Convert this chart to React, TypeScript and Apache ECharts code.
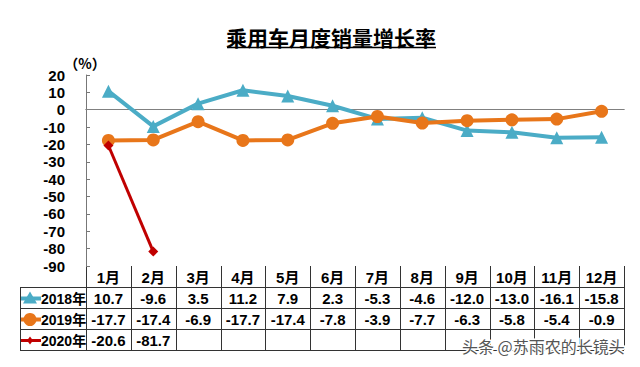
import React, { useEffect, useRef } from "react";
import * as echarts from "echarts";

const months = ["1月", "2月", "3月", "4月", "5月", "6月", "7月", "8月", "9月", "10月", "11月", "12月"];
const seriesNames = ["2018年", "2019年", "2020年"];
const growth2018 = [10.7, -9.6, 3.5, 11.2, 7.9, 2.3, -5.3, -4.6, -12.0, -13.0, -16.1, -15.8];
const growth2019 = [-17.7, -17.4, -6.9, -17.7, -17.4, -7.8, -3.9, -7.7, -6.3, -5.8, -5.4, -0.9];
const growth2020 = [-20.6, -81.7];
const yMin = -90;
const yMax = 20;
const yStep = 10;
const titleText = "乘用车月度销量增长率";
const unitText = "（%）";
const watermark = "头条 @苏雨农的长镜头";

const colors = ["#4BACC6", "#E8761A", "#C00000"];
const allData = [growth2018, growth2019, growth2020];

const FONT = "'Liberation Sans', Arial, 'Noto Sans CJK SC', sans-serif";
const CJK = "'Noto Sans CJK SC', sans-serif";

export default function App() {
  const ref = useRef<HTMLDivElement>(null);
  useEffect(() => {
    document.body.style.margin = "0";
    const chart = echarts.init(ref.current!, null, { renderer: "svg" });
    const option: any = {
      animation: false,
      backgroundColor: "#fff",
      grid: { left: 86, right: 16, top: 75, bottom: 101 },
      xAxis: {
        type: "category",
        data: months,
        boundaryGap: true,
        axisLine: { show: true, lineStyle: { color: "#333", width: 1 } },
        axisTick: { show: false },
        axisLabel: {
          margin: 4,
          fontSize: 15,
          fontWeight: "bold",
          color: "#000",
          fontFamily: FONT,
          interval: 0,
        },
        splitLine: { show: false },
      },
      yAxis: {
        type: "value",
        min: yMin,
        max: yMax,
        interval: yStep,
        axisLine: { show: true, lineStyle: { color: "#777", width: 1 } },
        axisTick: { show: true, inside: true, length: 4, lineStyle: { color: "#777" } },
        axisLabel: { fontSize: 15, fontWeight: "bold", color: "#000", fontFamily: FONT, margin: 21 },
        splitLine: { show: false },
      },
      series: [
        {
          name: seriesNames[0],
          type: "line",
          data: growth2018,
          symbol: "triangle",
          symbolSize: 13,
          lineStyle: { color: colors[0], width: 4 },
          itemStyle: { color: colors[0] },
          z: 3,
          markLine: {
            silent: true,
            symbol: "none",
            label: { show: false },
            lineStyle: { color: "#808080", width: 1, type: "solid" },
            data: [{ yAxis: 0 }],
            z: 1,
          },
        },
        {
          name: seriesNames[1],
          type: "line",
          data: growth2019,
          symbol: "circle",
          symbolSize: 13,
          lineStyle: { color: colors[1], width: 4 },
          itemStyle: { color: colors[1] },
          z: 4,
        },
        {
          name: seriesNames[2],
          type: "line",
          data: growth2020,
          symbol: "diamond",
          symbolSize: 10,
          lineStyle: { color: colors[2], width: 3 },
          itemStyle: { color: colors[2] },
          z: 5,
        },
      ],
    };
    chart.setOption(option);

    const c0 = chart.convertToPixel({ xAxisIndex: 0 }, 0) as number;
    const c11 = chart.convertToPixel({ xAxisIndex: 0 }, months.length - 1) as number;
    const colW = (c11 - c0) / (months.length - 1);
    const left = c0 - colW / 2;
    const right = left + colW * months.length;
    const tableTop = chart.convertToPixel({ yAxisIndex: 0 }, yMin) as number;
    const rowH = 21;
    const labelLeft = 20;
    const g: any[] = [];
    const ls = { stroke: "#333", lineWidth: 1 };
    for (let i = 0; i <= months.length; i++) {
      const x = Math.round(left + i * colW) + 0.5;
      g.push({ type: "line", shape: { x1: x, y1: tableTop, x2: x, y2: tableTop + rowH * 4 }, style: ls, silent: true });
    }
    g.push({ type: "line", shape: { x1: labelLeft + 0.5, y1: tableTop + rowH, x2: labelLeft + 0.5, y2: tableTop + rowH * 4 }, style: ls });
    for (let r = 1; r <= 4; r++) {
      const y = Math.round(tableTop + r * rowH) + 0.5;
      g.push({ type: "line", shape: { x1: labelLeft, y1: y, x2: right, y2: y }, style: ls });
    }
    allData.forEach((arr, s) => {
      const yc = tableTop + rowH * (s + 1) + rowH / 2 + 1;
      arr.forEach((v, i) => {
        g.push({
          type: "text",
          x: left + colW * (i + 0.5),
          y: yc,
          style: {
            text: v.toFixed(1),
            fontSize: 15,
            fontWeight: "bold",
            fontFamily: FONT,
            fill: "#000",
            align: "center",
            verticalAlign: "middle",
          },
        });
      });
      const kx = labelLeft + 10;
      g.push({ type: "line", shape: { x1: labelLeft + 1, y1: yc, x2: labelLeft + 21, y2: yc }, style: { stroke: colors[s], lineWidth: s === 2 ? 3 : 4 } });
      if (s === 0) {
        g.push({ type: "polygon", shape: { points: [[kx, yc - 7], [kx - 7, yc + 5], [kx + 7, yc + 5]] }, style: { fill: colors[s] } });
      } else if (s === 1) {
        g.push({ type: "circle", shape: { cx: kx, cy: yc, r: 6.5 }, style: { fill: colors[s] } });
      } else {
        g.push({ type: "polygon", shape: { points: [[kx, yc - 4], [kx - 3, yc], [kx, yc + 4], [kx + 3, yc]] }, style: { fill: colors[s] } });
      }
      g.push({
        type: "text",
        x: labelLeft + 21,
        y: yc,
        style: {
          text: seriesNames[s],
          fontSize: 14,
          fontWeight: "bold",
          fontFamily: FONT,
          fill: "#000",
          align: "left",
          verticalAlign: "middle",
        },
      });
    });
    g.push({
      type: "text",
      x: 331,
      y: 37,
      style: { text: titleText, fontSize: 21, fontWeight: "bold", fontFamily: CJK, fill: "#000", align: "center", verticalAlign: "middle" },
    });
    g.push({ type: "line", shape: { x1: 227, y1: 47.5, x2: 436, y2: 47.5 }, style: { stroke: "#000", lineWidth: 1.5 } });
    g.push({
      type: "text",
      x: 85,
      y: 63,
      style: { text: unitText, fontSize: 14, fontWeight: "bold", fontFamily: CJK, fill: "#000", align: "center", verticalAlign: "middle" },
    });
    g.push({
      type: "text",
      x: 462,
      y: 346,
      z: 100,
      style: {
        text: watermark,
        fontSize: 16,
        fontFamily: CJK,
        fill: "#555",
        stroke: "#fff",
        lineWidth: 3,
        align: "left",
        verticalAlign: "middle",
      },
    });
    chart.setOption({ graphic: g });
    return () => chart.dispose();
  }, []);
  return <div ref={ref} style={{ width: 640, height: 367 }} />;
}
